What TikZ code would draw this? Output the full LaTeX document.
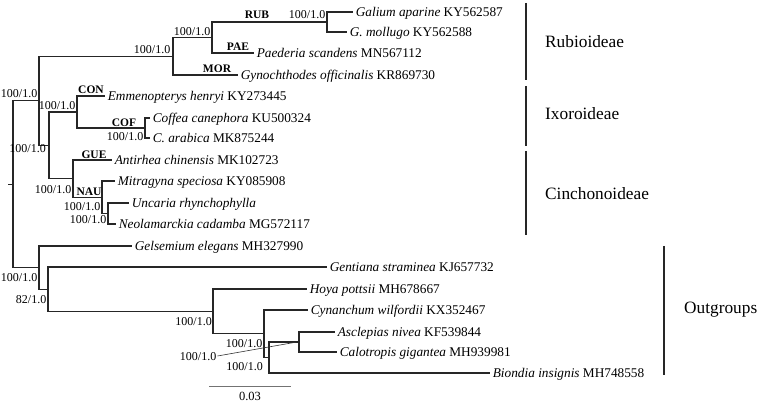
\documentclass[tikz,border=0pt]{standalone}
\usepackage{fontspec}
\setmainfont{Liberation Serif}
\begin{document}
\begin{tikzpicture}[x=1pt,y=-1pt,
  br/.style={line width=1.1pt,black!85},
  bar/.style={line width=2pt,black!85},
  leaftext/.style={anchor=base west,inner sep=0pt,xshift=2.6pt,font=\fontsize{13.3}{15}\selectfont},
  bs/.style={anchor=base east,inner sep=0pt,font=\fontsize{12}{14}\selectfont},
  clade/.style={anchor=base,inner sep=0pt,font=\fontsize{11.5}{13}\selectfont\bfseries},
  grp/.style={anchor=base west,inner sep=0pt,font=\fontsize{17.3}{20}\selectfont}]
\useasboundingbox (0,0) rectangle (760,403);
\newcommand{\leaf}[4]{\coordinate (#1) at (#2,#3);
  \node[leaftext] (#1-t) at ([yshift=-4.5pt]#1) {#4};}
% leaves
\leaf{lGal}{353}{12}{\textit{Galium aparine} KY562587}
\leaf{lMol}{347}{32}{\textit{G. mollugo} KY562588}
\leaf{lPae}{254}{53}{\textit{Paederia scandens} MN567112}
\leaf{lGyn}{238}{75}{\textit{Gynochthodes officinalis} KR869730}
\leaf{lEmm}{105}{96}{\textit{Emmenopterys henryi} KY273445}
\leaf{lCca}{150}{118}{\textit{Coffea canephora} KU500324}
\leaf{lCar}{150}{138}{\textit{C. arabica} MK875244}
\leaf{lAnt}{112}{160}{\textit{Antirhea chinensis} MK102723}
\leaf{lMit}{115}{181}{\textit{Mitragyna speciosa} KY085908}
\leaf{lUnc}{129}{203}{\textit{Uncaria rhynchophylla}}
\leaf{lNeo}{116}{224}{\textit{Neolamarckia cadamba} MG572117}
\leaf{lGel}{132}{246}{\textit{Gelsemium elegans} MH327990}
\leaf{lGen}{327}{267}{\textit{Gentiana straminea} KJ657732}
\leaf{lHoy}{307}{289}{\textit{Hoya pottsii} MH678667}
\leaf{lCyn}{308}{310}{\textit{Cynanchum wilfordii} KX352467}
\leaf{lAsc}{335}{332}{\textit{Asclepias nivea} KF539844}
\leaf{lCal}{337}{352}{\textit{Calotropis gigantea} MH939981}
\leaf{lBio}{490}{373}{\textit{Biondia insignis} MH748558}
% internal nodes
\coordinate (nGal) at (327,22);
\coordinate (nRP) at (212,37.5);
\coordinate (nRub) at (173,56.25);
\coordinate (nCof) at (145,128);
\coordinate (nIxo) at (77,112);
\coordinate (nUN) at (108,213.5);
\coordinate (nNau) at (102,197.25);
\coordinate (nCin) at (73,178.6);
\coordinate (nIC) at (49,145.3);
\coordinate (nRbc) at (39,100.8);
\coordinate (nAC) at (299,342);
\coordinate (n269) at (269,357.5);
\coordinate (n264) at (264,333.75);
\coordinate (n213) at (213,311.4);
\coordinate (n48) at (48,289.2);
\coordinate (nOut) at (39,267.6);
\coordinate (root) at (13,184.2);
\coordinate (stub) at (8,184.2);
% branches
\draw[br] (stub) -- (root);
\draw[br] (root) |- (nRbc); \draw[br] (root) |- (nOut);
\draw[br] (nRbc) |- (nRub); \draw[br] (nRbc) |- (nIC);
\draw[br] (nRub) |- (nRP); \draw[br] (nRub) |- (lGyn);
\draw[br] (nRP) |- (nGal); \draw[br] (nRP) |- (lPae);
\draw[br] (nGal) |- (lGal); \draw[br] (nGal) |- (lMol);
\draw[br] (nIC) |- (nIxo); \draw[br] (nIC) |- (nCin);
\draw[br] (nIxo) |- (lEmm); \draw[br] (nIxo) |- (nCof);
\draw[br] (nCof) |- (lCca); \draw[br] (nCof) |- (lCar);
\draw[br] (nCin) |- (lAnt); \draw[br] (nCin) |- (nNau);
\draw[br] (nNau) |- (lMit); \draw[br] (nNau) |- (nUN);
\draw[br] (nUN) |- (lUnc); \draw[br] (nUN) |- (lNeo);
\draw[br] (nOut) |- (lGel); \draw[br] (nOut) |- (n48);
\draw[br] (n48) |- (lGen); \draw[br] (n48) |- (n213);
\draw[br] (n213) |- (lHoy); \draw[br] (n213) |- (n264);
\draw[br] (n264) |- (lCyn); \draw[br] (n264) |- (n269);
\draw[br] (n269) |- (nAC); \draw[br] (n269) |- (lBio);
\draw[br] (nAC) |- (lAsc); \draw[br] (nAC) |- (lCal);
% support values
\node[bs] (s1) at (37.5,98) {100/1.0};
\node[bs] (s2) at (170.5,54) {100/1.0};
\node[bs] (s3) at (210.5,35.5) {100/1.0};
\node[bs] (s4) at (325.5,19) {100/1.0};
\node[bs] (s5) at (75.5,110) {100/1.0};
\node[bs] (s6) at (143.5,141) {100/1.0};
\node[bs] (s7) at (46,153) {100/1.0};
\node[bs] (s8) at (71.5,194) {100/1.0};
\node[bs] (s9) at (100.5,211) {100/1.0};
\node[bs] (s10) at (106.5,224) {100/1.0};
\node[bs] (s11) at (37.5,281) {100/1.0};
\node[bs] (s12) at (46.5,303) {82/1.0};
\node[bs] (s13) at (212,325) {100/1.0};
\node[bs] (s14) at (262.5,347) {100/1.0};
\node[bs] (s15) at (263,370) {100/1.0};
\node[bs] (s16) at (216.5,360) {100/1.0};
\draw[line width=0.6pt,black!80] ([xshift=1pt,yshift=4pt]s16.base east) -- ([xshift=-2pt]nAC);
% clade labels
\node[clade] (cRUB) at (257,19) {RUB};
\node[clade] (cPAE) at (238,51) {PAE};
\node[clade] (cMOR) at (217,73) {MOR};
\node[clade] (cCON) at (91,94) {CON};
\node[clade] (cCOF) at (124,127) {COF};
\node[clade] (cGUE) at (94,159) {GUE};
\node[clade] (cNAU) at (89,196) {NAU};
% group bars
\coordinate (b1a) at (526,3); \coordinate (b1b) at (526,80);
\coordinate (b2a) at (526,86); \coordinate (b2b) at (526,146);
\coordinate (b3a) at (526,151); \coordinate (b3b) at (526,235);
\coordinate (b4a) at (664,246); \coordinate (b4b) at (664,375);
\draw[bar] (b1a) -- (b1b);
\draw[bar] (b2a) -- (b2b);
\draw[bar] (b3a) -- (b3b);
\draw[bar] (b4a) -- (b4b);
\node[grp] (gRub) at (545,48) {Rubioideae};
\node[grp] (gIxo) at (545,120) {Ixoroideae};
\node[grp] (gCin) at (545,200) {Cinchonoideae};
\node[grp] (gOut) at (684,313) {Outgroups};
% scale bar
\coordinate (sb1) at (209,386); \coordinate (sb2) at (291,386);
\draw[line width=1pt,black!55] (sb1) -- (sb2);
\node[anchor=base,inner sep=0pt,font=\fontsize{12.5}{14}\selectfont] (sbl) at (250,400.5) {0.03};
\end{tikzpicture}
\end{document}
